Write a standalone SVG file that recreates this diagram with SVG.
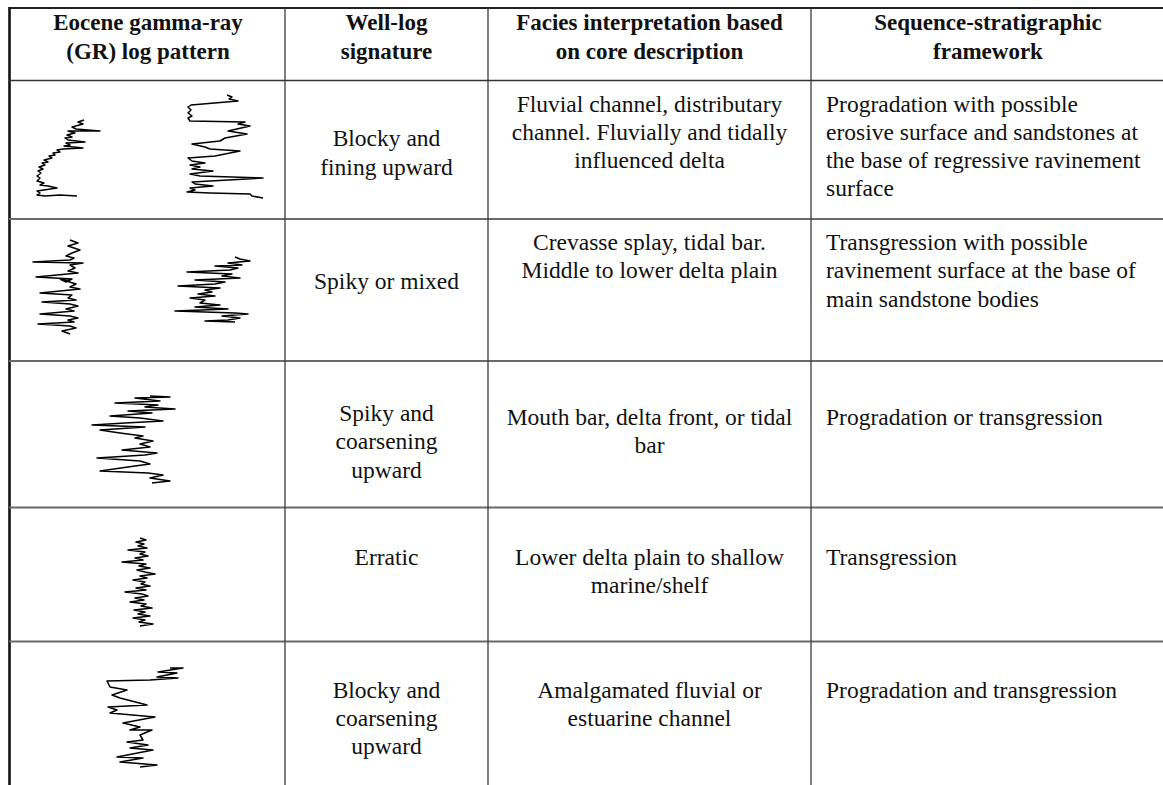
<svg xmlns="http://www.w3.org/2000/svg" width="1163" height="785" viewBox="0 0 1163 785">
<style>
.t{font-family:"Liberation Serif","Times New Roman",Times,serif;font-size:23.5px;fill:#111}
.h{font-weight:bold;text-anchor:middle;font-size:23px}
.c{text-anchor:middle}
.hl{stroke:#6a6a6a;stroke-width:1.8}
.vl{stroke:#3a3a3a;stroke-width:1.3}
.log{fill:none;stroke:#000;stroke-width:1.5;stroke-linejoin:round}
</style>
<rect width="1163" height="785" fill="#fff"/>
<g id="grid">
<line x1="9" y1="8" x2="1163" y2="8" stroke="#222" stroke-width="2.2"/>
<line x1="9.5" y1="7" x2="9.5" y2="785" stroke="#111" stroke-width="2.6"/>
<line x1="9" y1="80.5" x2="1163" y2="80.5" stroke="#333" stroke-width="1.6"/>
<line class="hl" x1="9" y1="219" x2="1163" y2="219"/>
<line class="hl" x1="9" y1="361" x2="1163" y2="361"/>
<line class="hl" x1="9" y1="507.5" x2="1163" y2="507.5"/>
<line class="hl" x1="9" y1="641.5" x2="1163" y2="641.5"/>
<line class="vl" x1="285" y1="8" x2="285" y2="785"/>
<line class="vl" x1="488" y1="8" x2="488" y2="785"/>
<line class="vl" x1="811" y1="8" x2="811" y2="785"/>
</g>
<g id="header">
<text class="t h" x="148" y="30">Eocene gamma-ray</text>
<text class="t h" x="148" y="59">(GR) log pattern</text>
<text class="t h" x="386.5" y="30">Well-log</text>
<text class="t h" x="386.5" y="59">signature</text>
<text class="t h" x="649.5" y="30">Facies interpretation based</text>
<text class="t h" x="649.5" y="59">on core description</text>
<text class="t h" x="988" y="30">Sequence-stratigraphic</text>
<text class="t h" x="988" y="59">framework</text>
</g>
<g id="row1">
<polyline class="log" points="77,196 60,195 45,196 37,195 40,193 37,191 44,190 57,188 48,186 40,185 44,183 37,181 40,178 37,176 41,173 38,171 43,169 39,167 45,165 42,163 48,162 44,160 52,158 49,156 55,155 53,153 60,152 57,150 63,149 83,148 64,146 70,145 66,143 85,142 68,140 65,138 72,137 67,135 75,133 68,131 100,131 76,129 72,127 83,124 78,122 84,120"/>
<polyline class="log" points="263,198 252,196 250,194 210,193 187,192 195,190 190,188 213,186 195,184 192,182 263,178 200,176 190,174 213,171 192,169 200,167 190,165 205,163 192,161 188,158 215,156 240,151 210,149 205,147 192,144 220,141 225,138 247,134 228,131 250,126 238,124 245,122 190,121 188,118 192,116 188,113 191,110 188,107 191,105 238,101 229,99 232,97 227,95"/>
<text class="t c" x="386.5" y="146">Blocky and</text>
<text class="t c" x="386.5" y="175">fining upward</text>
<text class="t c" x="649.5" y="112">Fluvial channel, distributary</text>
<text class="t c" x="649.5" y="140">channel. Fluvially and tidally</text>
<text class="t c" x="649.5" y="168">influenced delta</text>
<text class="t" x="826" y="112">Progradation with possible</text>
<text class="t" x="826" y="140">erosive surface and sandstones at</text>
<text class="t" x="826" y="168">the base of regressive ravinement</text>
<text class="t" x="826" y="196">surface</text>
</g>
<g id="row2">
<polyline class="log" points="70,240 78,243 68,246 80,250 72,253 66,256 74,258 70,260 33,262 83,263 70,265 75,268 68,271 78,273 36,277 72,279 66,282 60,279 76,284 70,287 80,289 40,293 72,295 68,298 76,300 42,302 70,304 78,306 66,309 74,311 40,314 70,316 78,318 68,320 74,322 38,324 70,326 76,328 62,331 70,334"/>
<polyline class="log" points="235,257 240,259 250,261 228,263 242,265 215,266 238,268 230,270 187,272 232,274 222,276 240,278 195,280 225,282 215,284 178,286 220,288 205,290 212,292 198,294 215,296 190,298 205,300 200,303 220,305 195,307 228,309 175,311 235,313 248,314 222,316 240,318 228,320 205,321 235,322"/>
<text class="t c" x="386.5" y="289">Spiky or mixed</text>
<text class="t c" x="649.5" y="250">Crevasse splay, tidal bar.</text>
<text class="t c" x="649.5" y="278">Middle to lower delta plain</text>
<text class="t" x="826" y="250">Transgression with possible</text>
<text class="t" x="826" y="278">ravinement surface at the base of</text>
<text class="t" x="826" y="307">main sandstone bodies</text>
</g>
<g id="row3">
<polyline class="log" points="150,396 170,397 135,398 160,401 115,403 158,405 145,407 175,409 128,411 152,413 110,416 140,418 163,421 125,423 92,425 145,427 100,430 120,433 143,436 135,438 153,441 140,444 150,447 122,450 157,453 145,455 97,458 140,461 150,464 135,466 100,471 148,473 163,475 150,478 170,481 152,483"/>
<text class="t c" x="386.5" y="421">Spiky and</text>
<text class="t c" x="386.5" y="449">coarsening</text>
<text class="t c" x="386.5" y="478">upward</text>
<text class="t c" x="649.5" y="425">Mouth bar, delta front, or tidal</text>
<text class="t c" x="649.5" y="453">bar</text>
<text class="t" x="826" y="425">Progradation or transgression</text>
</g>
<g id="row4">
<polyline class="log" points="140,538 146,540 136,542 144,544 138,546 147,548 128,550 145,552 140,554 148,556 135,558 143,560 122,562 146,564 139,566 150,568 137,570 145,572 155,574 140,576 147,578 133,580 145,582 141,584 150,586 136,588 146,590 125,592 142,594 148,596 135,598 144,600 130,602 146,604 141,606 152,608 134,610 145,612 138,614 150,616 133,618 145,620 139,622 153,624 140,626"/>
<text class="t c" x="386.5" y="565">Erratic</text>
<text class="t c" x="649.5" y="565">Lower delta plain to shallow</text>
<text class="t c" x="649.5" y="593">marine/shelf</text>
<text class="t" x="826" y="565">Transgression</text>
</g>
<g id="row5">
<polyline class="log" points="170,668 183,668 158,672 177,673 157,677 178,678 150,680 107,681 110,687 127,690 112,695 120,698 147,705 108,707 117,710 110,713 155,717 123,723 140,727 130,730 152,730 140,735 143,740 127,742 148,745 130,748 153,750 117,757 143,758 120,762 157,765 140,767"/>
<text class="t c" x="386.5" y="698">Blocky and</text>
<text class="t c" x="386.5" y="726">coarsening</text>
<text class="t c" x="386.5" y="754">upward</text>
<text class="t c" x="649.5" y="698">Amalgamated fluvial or</text>
<text class="t c" x="649.5" y="726">estuarine channel</text>
<text class="t" x="826" y="698">Progradation and transgression</text>
</g>
</svg>
